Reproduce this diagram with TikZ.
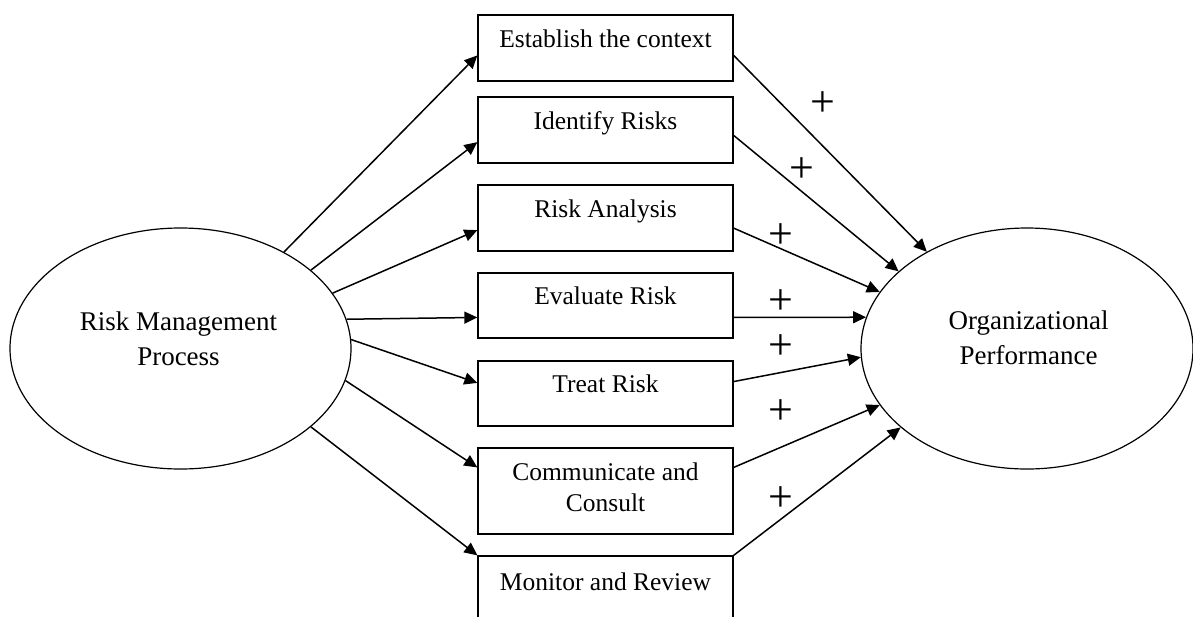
\documentclass[tikz,border=0pt]{standalone}
\usepackage{fontspec}
\setmainfont{Liberation Serif}
\usetikzlibrary{shapes.geometric,arrows.meta,calc}
\begin{document}
\begin{tikzpicture}[x=1pt,y=-1pt,
  box/.style={draw, line width=1.3pt, minimum width=255pt, inner sep=0pt},
  boxtext/.style={font=\fontsize{25.5}{31}\selectfont, align=center, inner sep=0pt},
  oval/.style={draw, ellipse, line width=1.2pt, inner sep=0pt},
  ovaltext/.style={font=\fontsize{27}{35}\selectfont, align=center, inner sep=0pt},
  conn/.style={line width=1.5pt, -{Triangle[length=13pt,width=12pt]}},
  sign/.style={font=\fontsize{44}{46}\selectfont, inner sep=0pt}]
\useasboundingbox (0,0) rectangle (1193,616);
% ellipses
\node[oval, minimum width=341pt, minimum height=241pt] (L) at (180.5,348.5) {};
\node[oval, minimum width=332pt, minimum height=241pt] (R) at (1027,348.5) {};
\node[ovaltext] (Lt) at (178.5,338.3) {Risk Management\\Process};
\node[ovaltext] (Rt) at (1028.5,337.8) {Organizational\\Performance};
% boxes
\node[box, minimum height=66pt] (b1) at (605.5,48) {};
\node[box, minimum height=66pt] (b2) at (605.5,130) {};
\node[box, minimum height=66pt] (b3) at (605.5,218) {};
\node[box, minimum height=65pt] (b4) at (605.5,305.5) {};
\node[box, minimum height=65pt] (b5) at (605.5,393.5) {};
\node[box, minimum height=86pt] (b6) at (605.5,491) {};
\node[box, minimum height=66pt] (b7) at (605.5,589) {};
% box texts
\node[boxtext, anchor=base] (t1) at (605.5,47) {Establish the context};
\node[boxtext, anchor=base] (t2) at (605.5,129) {Identify Risks};
\node[boxtext, anchor=base] (t3) at (605.5,217) {Risk Analysis};
\node[boxtext, anchor=base] (t4) at (605.5,304) {Evaluate Risk};
\node[boxtext, anchor=base] (t5) at (605.5,392) {Treat Risk};
\node[boxtext] (t6) at (605.5,487) {Communicate and\\Consult};
\node[boxtext, anchor=base] (t7) at (605.5,590) {Monitor and Review};
% left connectors
\draw[conn] (L.43) -- ($(b1.north west)!0.61!(b1.south west)$);
\draw[conn] (L.31.2) -- ($(b2.north west)!0.68!(b2.south west)$);
\draw[conn] (L.20.3) -- ($(b3.north west)!0.68!(b3.south west)$);
\draw[conn] (L.10.5) -- ($(b4.north west)!0.68!(b4.south west)$);
\draw[conn] (L.3.2) -- ($(b5.north west)!0.34!(b5.south west)$);
\draw[conn] (L.-11.2) -- ($(b6.north west)!0.23!(b6.south west)$);
\draw[conn] (L.-31.2) -- (b7.north west);
% right connectors
\draw[conn] ($(b1.north east)!0.61!(b1.south east)$) -- (R.136);
\draw[conn] ($(b2.north east)!0.58!(b2.south east)$) -- (R.149.7);
\draw[conn] ($(b3.north east)!0.65!(b3.south east)$) -- (R.159.6);
\draw[conn] ($(b4.north east)!0.68!(b4.south east)$) -- (R.169.3);
\draw[conn] ($(b5.north east)!0.32!(b5.south east)$) -- (R.183.9);
\draw[conn] ($(b6.north east)!0.23!(b6.south east)$) -- (R.201);
\draw[conn] (b7.north east) -- (R.212.1);
% signs
\node[sign] (p1) at (823,104) {+};
\node[sign] (p2) at (802,170) {+};
\node[sign] (p3) at (781,236) {+};
\node[sign] (p4) at (781,302) {+};
\node[sign] (p5) at (781,347) {+};
\node[sign] (p6) at (781,412) {+};
\node[sign] (p7) at (781,499) {+};
\end{tikzpicture}
\end{document}
